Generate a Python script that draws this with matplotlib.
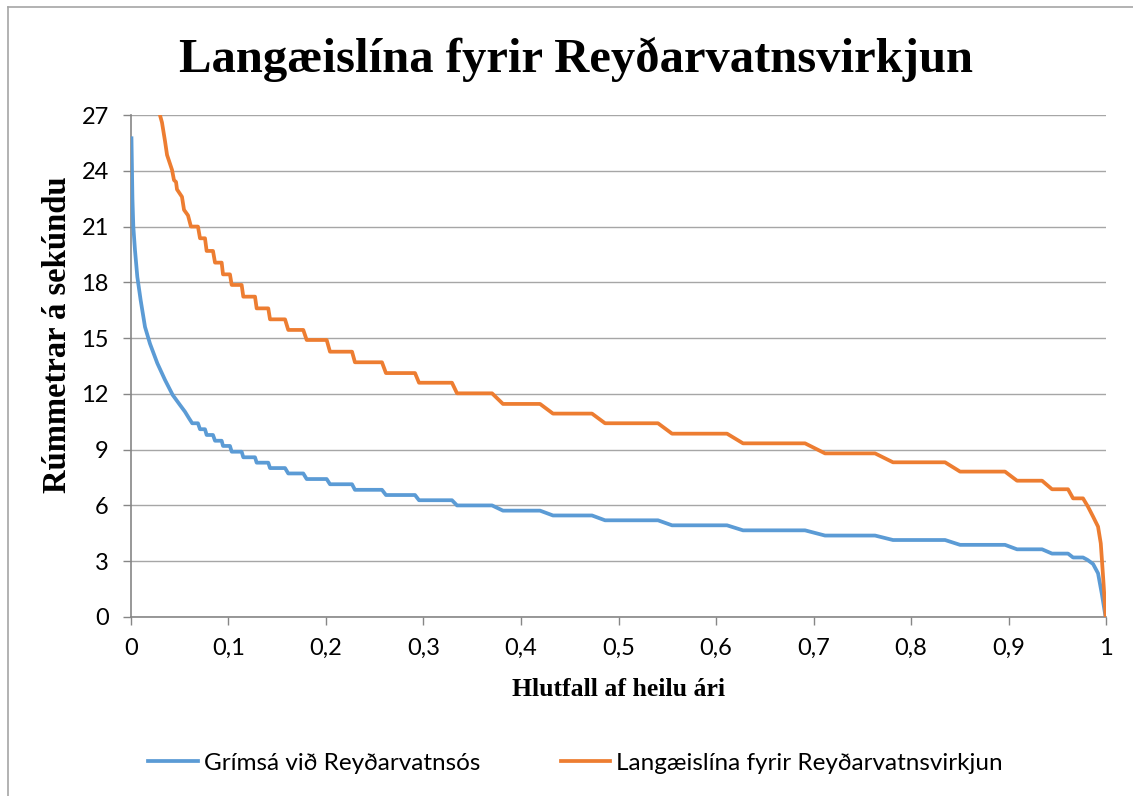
import matplotlib
matplotlib.use("Agg")
import matplotlib.pyplot as plt
from matplotlib.lines import Line2D

# Grímsá við Reyðarvatnsós (blue)
blue_x = [0.0005, 0.0015, 0.0024, 0.0041, 0.0065, 0.0099, 0.0144, 0.0195, 0.027,
          0.0349, 0.0428, 0.0503, 0.0554, 0.0595, 0.0628, 0.0687, 0.0708, 0.0759,
          0.0776, 0.0841, 0.0862, 0.093, 0.0944, 0.1015, 0.1033, 0.1135, 0.1152,
          0.1272, 0.1289, 0.1408, 0.1426, 0.158, 0.1613, 0.1767, 0.1802, 0.2007,
          0.2041, 0.2267, 0.2297, 0.2574, 0.2615, 0.2913, 0.2954, 0.3292, 0.3344,
          0.3703, 0.3815, 0.4195, 0.4328, 0.4728, 0.4862, 0.5405, 0.5549, 0.6113,
          0.6277, 0.6913, 0.7118, 0.7631, 0.7815, 0.8349, 0.8503, 0.8964, 0.9087,
          0.9344, 0.9446, 0.961, 0.9662, 0.9764, 0.981, 0.9867, 0.9918, 0.9956,
          0.9995]
blue_y = [25.75, 22.5, 21.0, 19.74, 18.3, 17.05, 15.6, 14.7, 13.65,
          12.75, 11.94, 11.40, 11.04, 10.69, 10.42, 10.42, 10.1, 10.1,
          9.79, 9.79, 9.48, 9.48, 9.2, 9.2, 8.89, 8.89, 8.59,
          8.59, 8.30, 8.30, 8.01, 8.01, 7.72, 7.72, 7.42, 7.42,
          7.14, 7.14, 6.84, 6.84, 6.56, 6.56, 6.28, 6.28, 6.0,
          6.0, 5.72, 5.72, 5.46, 5.46, 5.2, 5.2, 4.93, 4.93,
          4.66, 4.66, 4.38, 4.38, 4.14, 4.14, 3.88, 3.88, 3.64,
          3.64, 3.41, 3.41, 3.2, 3.2, 3.07, 2.85, 2.35, 1.27,
          0.02]

# Langæislína fyrir Reyðarvatnsvirkjun (orange), goes above the axis at the start
orange_x = [0.0287, 0.0297, 0.0318, 0.0349, 0.037, 0.0421, 0.0441, 0.0462, 0.0472,
            0.0523, 0.0544, 0.0585, 0.0615, 0.0687, 0.0708, 0.0759, 0.0776, 0.0841,
            0.0862, 0.093, 0.0944, 0.1015, 0.1033, 0.1135, 0.1152, 0.1272, 0.1289,
            0.1408, 0.1426, 0.158, 0.1613, 0.1767, 0.1802, 0.2007, 0.2041, 0.2267,
            0.2297, 0.2574, 0.2615, 0.2913, 0.2954, 0.3292, 0.3344, 0.3703, 0.3815,
            0.4195, 0.4328, 0.4728, 0.4862, 0.5405, 0.5549, 0.6113, 0.6277, 0.6913,
            0.7118, 0.7631, 0.7815, 0.8349, 0.8503, 0.8964, 0.9087, 0.9344, 0.9446,
            0.961, 0.9662, 0.9764, 0.9815, 0.9867, 0.9918, 0.9946, 0.9972, 0.9995]
orange_y = [27.6, 27.0, 26.6, 25.6, 24.85, 24.05, 23.5, 23.4, 23.0,
            22.6, 21.9, 21.6, 21.0, 21.0, 20.37, 20.37, 19.69, 19.69,
            19.06, 19.06, 18.43, 18.43, 17.86, 17.86, 17.23, 17.23, 16.6,
            16.6, 16.01, 16.01, 15.44, 15.44, 14.9, 14.9, 14.27, 14.27,
            13.70, 13.70, 13.12, 13.12, 12.6, 12.6, 12.03, 12.03, 11.46,
            11.46, 10.94, 10.94, 10.42, 10.42, 9.86, 9.86, 9.34, 9.34,
            8.80, 8.80, 8.32, 8.32, 7.82, 7.82, 7.33, 7.33, 6.87,
            6.87, 6.38, 6.38, 5.93, 5.4, 4.86, 3.96, 2.0, 0.1]

x_ticks = [0, 0.1, 0.2, 0.3, 0.4, 0.5, 0.6, 0.7, 0.8, 0.9, 1]
x_ticklabels = ["0", "0,1", "0,2", "0,3", "0,4", "0,5", "0,6", "0,7", "0,8", "0,9", "1"]
y_ticks = [0, 3, 6, 9, 12, 15, 18, 21, 24, 27]

plt.rcParams["font.family"] = ["Lato", "DejaVu Sans"]

fig = plt.figure(figsize=(11.33, 7.96), dpi=100)
ax = fig.add_axes([0.1156, 0.2249, 0.8606, 0.6306])

ax.plot(blue_x, blue_y, color="#5B9BD5", lw=2.7, label="Grímsá við Reyðarvatnsós",
        solid_joinstyle="round", zorder=3)
ax.plot(orange_x, orange_y, color="#ED7D31", lw=2.7,
        label="Langæislína fyrir Reyðarvatnsvirkjun", solid_joinstyle="round", zorder=3)

ax.set_xlim(0, 1)
ax.set_ylim(0, 27)
ax.set_xticks(x_ticks)
ax.set_xticklabels(x_ticklabels)
ax.set_yticks(y_ticks)
ax.grid(axis="y", color="#A6A6A6", lw=1)
ax.set_axisbelow(True)
for s in ["top", "right"]:
    ax.spines[s].set_visible(False)
for s in ["left", "bottom"]:
    ax.spines[s].set_color("#868686")
    ax.spines[s].set_linewidth(1.2)
ax.tick_params(axis="both", length=6, width=1, color="#868686", labelsize=17)
ax.tick_params(axis="y", pad=10)
ax.tick_params(axis="x", pad=9)

serif = ["Liberation Serif", "DejaVu Serif"]
fig.text(0.508, 0.925, "Langæislína fyrir Reyðarvatnsvirkjun", ha="center", va="center",
         fontsize=35, fontweight="bold", family=serif)
ax.set_xlabel("Hlutfall af heilu ári", fontsize=18.5, fontweight="bold", family=serif,
              labelpad=14)
ax.set_ylabel("Rúmmetrar á sekúndu", fontsize=23.5, fontweight="bold", family=serif)
ax.yaxis.set_label_coords(-0.075, 0.562)
ax.yaxis.label.set_va("center")

fig.legend(loc="center", bbox_to_anchor=(0.508, 0.041), ncol=2, frameon=False,
           fontsize=17.5, handlelength=2.05, columnspacing=3.3, handletextpad=0.25)

# chart area border (only top and left show in the crop)
fig.add_artist(Line2D([0.007, 1], [0.991, 0.991], color="#A6A6A6", lw=1.2,
                      transform=fig.transFigure))
fig.add_artist(Line2D([0.007, 0.007], [0, 0.991], color="#A6A6A6", lw=1.2,
                      transform=fig.transFigure))

fig.savefig("out.png", dpi=100)
